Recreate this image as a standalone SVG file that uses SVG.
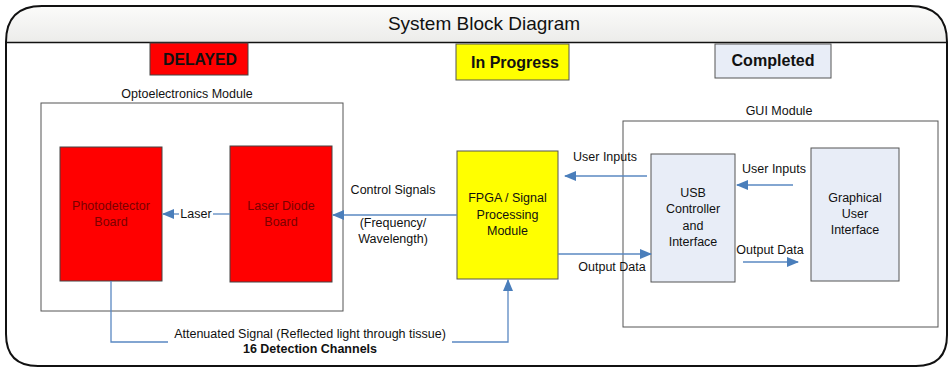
<svg xmlns="http://www.w3.org/2000/svg" width="951" height="368" viewBox="0 0 951 368">
<defs>
<linearGradient id="hdr" x1="0" y1="0" x2="0" y2="1"><stop offset="0" stop-color="#fbfbfa"/><stop offset="1" stop-color="#ececea"/></linearGradient>
<marker id="ah" viewBox="0 0 12 10" refX="11" refY="5" markerWidth="12" markerHeight="10" markerUnits="userSpaceOnUse" orient="auto"><path d="M0,0 L12,5 L0,10 Z" fill="#4a7ebb"/></marker>
</defs>
<style>
text{font-family:"Liberation Sans",Arial,sans-serif;fill:#111;}
.lbl{font-size:12.5px;}
.mid{text-anchor:middle;}
.conn{stroke:#5a88c2;stroke-width:1.3;fill:none;}
.red{fill:#ff0000;stroke:#444;stroke-width:1;}
.redt{font-size:12.5px;fill:#7a0000;}
.blu{fill:#e8edf7;stroke:#555;stroke-width:1;}
.mod{fill:#fff;stroke:#555;stroke-width:1;}
.bt{font-size:12.5px;}
</style>
<rect width="951" height="368" fill="#fff"/>
<g id="frame">
<path d="M5,42 L5,42 Q5,6 42,6 L910,6 Q947,6 947,42 Z" fill="url(#hdr)"/>
<path d="M6,42 L6,334 Q6,366 38,366 L916,366 Q947,366 947,335 L947,42 Q947,6 910,6 L42,6 Q6,6 6,42 Z" fill="none" stroke="#111" stroke-width="2"/>
<line x1="6" y1="42.5" x2="947" y2="42.5" stroke="#111" stroke-width="1.5"/>
<text x="484" y="30" class="mid" style="font-size:19px">System Block Diagram</text>
</g>
<g id="legend-delayed"><rect x="150" y="43" width="98" height="32" class="red"/><text x="200" y="65" class="mid" style="font-size:17px;font-weight:bold" textLength="74" lengthAdjust="spacingAndGlyphs">DELAYED</text></g>
<g id="legend-progress"><rect x="456" y="44" width="113" height="36" fill="#ffff00" stroke="#555"/><text x="515" y="68" class="mid" style="font-size:17px;font-weight:bold" textLength="88" lengthAdjust="spacingAndGlyphs">In Progress</text></g>
<g id="legend-completed"><rect x="715" y="44" width="116" height="34" class="blu"/><text x="773" y="66" class="mid" style="font-size:17px;font-weight:bold" textLength="83" lengthAdjust="spacingAndGlyphs">Completed</text></g>
<g id="opto-module"><rect x="41" y="103" width="302" height="208" class="mod"/><text x="187" y="98" class="lbl mid">Optoelectronics Module</text></g>
<g id="gui-module"><rect x="623" y="121" width="315" height="206" class="mod"/><text x="779" y="115" class="lbl mid">GUI Module</text></g>
<g id="photodetector"><rect x="60" y="147" width="102" height="134" class="red"/><text x="111" y="210" class="redt mid">Photodetector</text><text x="111" y="226" class="redt mid">Board</text></g>
<g id="laser-diode"><rect x="230" y="146" width="102" height="136" class="red"/><text x="281" y="210" class="redt mid">Laser Diode</text><text x="281" y="226" class="redt mid">Board</text></g>
<g id="fpga"><rect x="457" y="151" width="101" height="128" fill="#ffff00" stroke="#555"/><text x="507.5" y="202" class="bt mid">FPGA / Signal</text><text x="507.5" y="219" class="bt mid">Processing</text><text x="507.5" y="235" class="bt mid">Module</text></g>
<g id="usb"><rect x="651" y="154" width="84" height="128" class="blu"/><text x="693" y="197" class="bt mid">USB</text><text x="693" y="213" class="bt mid">Controller</text><text x="693" y="230" class="bt mid">and</text><text x="693" y="246" class="bt mid">Interface</text></g>
<g id="gui"><rect x="811" y="148" width="88" height="133" class="blu"/><text x="855" y="202" class="bt mid">Graphical</text><text x="855" y="218" class="bt mid">User</text><text x="855" y="234" class="bt mid">Interface</text></g>
<g id="connectors">
<line x1="230" y1="214" x2="213" y2="214" class="conn"/>
<line x1="179" y1="214" x2="163" y2="214" class="conn" marker-end="url(#ah)"/>
<path d="M457,215 L333,215" class="conn" marker-end="url(#ah)"/>
<path d="M111,281 L111,342 L168,342" class="conn"/>
<path d="M452,342 L508,342 L508,280" class="conn" marker-end="url(#ah)"/>
<line x1="647" y1="176" x2="565" y2="176" class="conn" marker-end="url(#ah)"/>
<line x1="793" y1="185" x2="737" y2="185" class="conn" marker-end="url(#ah)"/>
<line x1="558" y1="254" x2="651" y2="254" class="conn" marker-end="url(#ah)"/>
<line x1="743" y1="262" x2="798" y2="262" class="conn" marker-end="url(#ah)"/>
</g>
<g id="labels">
<text x="196" y="218" class="lbl mid">Laser</text>
<text x="393" y="194" class="lbl mid">Control Signals</text>
<text x="393" y="227" class="lbl mid">(Frequency/</text>
<text x="393" y="243" class="lbl mid">Wavelength)</text>
<text x="310" y="338" class="lbl mid">Attenuated Signal (Reflected light through tissue)</text>
<text x="310" y="353" class="lbl mid" style="font-weight:bold">16 Detection Channels</text>
<text x="605" y="161" class="lbl mid">User Inputs</text>
<text x="774" y="173" class="lbl mid">User Inputs</text>
<text x="612" y="271" class="lbl mid">Output Data</text>
<text x="770" y="254" class="lbl mid">Output Data</text>
</g>
</svg>
